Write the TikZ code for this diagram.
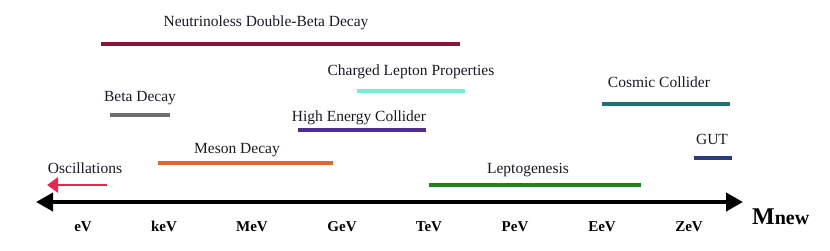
\documentclass[tikz,border=0pt]{standalone}
\usepackage{fontspec}
\setmainfont{Liberation Serif}
\usetikzlibrary{arrows.meta, positioning}
\definecolor{ndbdred}{RGB}{140, 20, 55}
\definecolor{leptonaqua}{RGB}{110, 240, 215}
\definecolor{betagray}{RGB}{110, 110, 110}
\definecolor{hecpurple}{RGB}{80, 45, 140}
\definecolor{cosmicteal}{RGB}{30, 115, 115}
\definecolor{mesonorange}{RGB}{225, 105, 45}
\definecolor{oscred}{RGB}{230, 40, 80}
\definecolor{gutblue}{RGB}{40, 60, 130}
\definecolor{leptogreen}{RGB}{30, 130, 30}
\definecolor{inkdark}{RGB}{25, 25, 40}

\begin{document}
\begin{tikzpicture}[
        x=1pt, y=-1pt,
        lbl/.style={anchor=base, inner sep=0pt, text=inkdark, font=\fontsize{15.5}{18}\selectfont},
        tick/.style={anchor=base, inner sep=0pt, font=\fontsize{15}{18}\selectfont\bfseries},
        bar/.style={line width=3.2pt},
        axis/.style={line width=4pt, {Triangle[length=17pt, width=18pt]}-{Triangle[length=17pt, width=18pt]}},
        osc/.style={line width=2.8pt, oscred, -{Triangle[length=11pt, width=15pt]}}
      ]
        \useasboundingbox (0,0) rectangle (830,250);

        % energy axis
        \coordinate (axL) at (36,202);
        \coordinate (axR) at (743,202);
        \draw[axis] (axL) -- (axR);

        \node[tick] (eV)  at (83,231)  {eV};
        \node[tick] (keV) at (164,231) {keV};
        \node[tick] (MeV) at (252,231) {MeV};
        \node[tick] (GeV) at (342,231) {GeV};
        \node[tick] (TeV) at (429,231) {TeV};
        \node[tick] (PeV) at (515,231) {PeV};
        \node[tick] (EeV) at (602,231) {EeV};
        \node[tick] (ZeV) at (689,231) {ZeV};
        \node[anchor=base west, inner sep=0pt, font=\bfseries] (Mnew) at (752,224)
          {{\fontsize{24}{26}\selectfont M}{\fontsize{20}{24}\selectfont new}};

        % probes
        \coordinate (ndbdL) at (101,44);  \coordinate (ndbdR) at (460,44);
        \coordinate (clpL)  at (357,91);  \coordinate (clpR)  at (465,91);
        \coordinate (betaL) at (110,115); \coordinate (betaR) at (170,115);
        \coordinate (hecL)  at (298,130); \coordinate (hecR)  at (426,130);
        \coordinate (cosL)  at (602,104); \coordinate (cosR)  at (730,104);
        \coordinate (mesL)  at (158,163); \coordinate (mesR)  at (333,163);
        \coordinate (gutL)  at (694,158); \coordinate (gutR)  at (732,158);
        \coordinate (lepL)  at (429,185); \coordinate (lepR)  at (641,185);
        \coordinate (oscL)  at (47,185);  \coordinate (oscR)  at (107,185);

        \draw[bar, ndbdred]     (ndbdL) -- (ndbdR);
        \draw[bar, leptonaqua]  (clpL) -- (clpR);
        \draw[bar, betagray]    (betaL) -- (betaR);
        \draw[bar, hecpurple]   (hecL) -- (hecR);
        \draw[bar, cosmicteal]  (cosL) -- (cosR);
        \draw[bar, mesonorange] (mesL) -- (mesR);
        \draw[bar, gutblue]     (gutL) -- (gutR);
        \draw[bar, leptogreen]  (lepL) -- (lepR);
        \draw[osc] (oscR) -- (oscL);

        \node[lbl] (ndbd) at (266,26)  {Neutrinoless Double-Beta Decay};
        \node[lbl] (clp)  at (411,75)  {Charged Lepton Properties};
        \node[lbl] (beta) at (140,101) {Beta Decay};
        \node[lbl] (hec)  at (359,121) {High Energy Collider};
        \node[lbl] (cos)  at (659,87)  {Cosmic Collider};
        \node[lbl] (mes)  at (237,153) {Meson Decay};
        \node[lbl] (oscl) at (85,173)  {Oscillations};
        \node[lbl] (gut)  at (712,144) {GUT};
        \node[lbl] (lep)  at (528,173) {Leptogenesis};
      \end{tikzpicture}
\end{document}
